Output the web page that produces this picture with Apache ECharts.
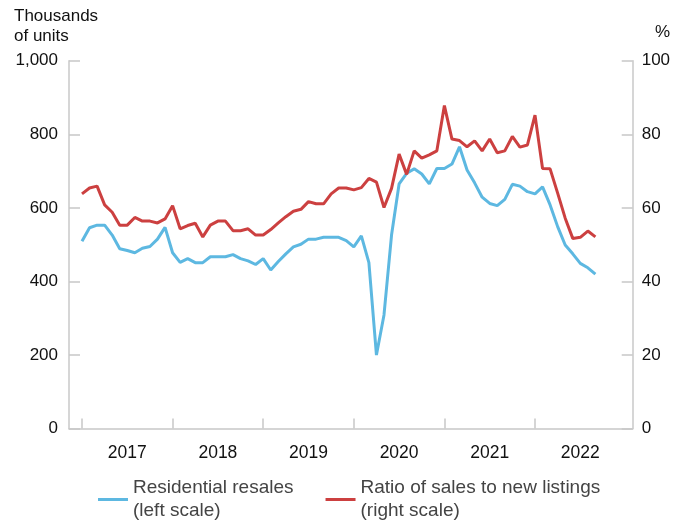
<!DOCTYPE html>
<html>
<head>
<meta charset="utf-8">
<script src="https://cdn.jsdelivr.net/npm/echarts@6/dist/echarts.min.js"></script>
<style>html,body{margin:0;padding:0;background:#fff}#c{width:686px;height:520px}</style>
</head>
<body>
<div id="c"></div>
<script>
// Month index 0 = Jan 2017 ... 68 = Sep 2022
const yearLabels = ['2017', '2018', '2019', '2020', '2021', '2022'];
const yearStartIdx = [0, 12, 24, 36, 48, 60];
const yearMidIdx = [6, 18, 30, 42, 54, 66];

// Residential resales, thousands of units (left scale)
const resales = [
  509, 546, 553, 553, 526, 489, 484, 478, 490, 495, 515, 547,
  478, 452, 462, 451, 451, 467, 467, 467, 473, 462, 456, 446,
  462, 431, 454, 475, 494, 501, 515, 515, 520, 520, 520, 511,
  494, 524, 451, 200, 309, 526, 665, 694, 706, 692, 665, 707,
  707, 719, 766, 703, 668, 629, 612, 606, 623, 664, 659, 644,
  638, 657, 608, 549, 499, 475, 449, 437, 420
];

// Ratio of sales to new listings, % (right scale)
const ratio = [
  63.8, 65.4, 65.9, 60.8, 58.8, 55.3, 55.3, 57.4, 56.4, 56.4, 55.9, 57.0,
  60.6, 54.3, 55.2, 55.8, 52.1, 55.3, 56.4, 56.4, 53.8, 53.8, 54.3, 52.6,
  52.6, 54.1, 55.9, 57.6, 59.1, 59.6, 61.7, 61.1, 61.1, 63.8, 65.4, 65.4,
  64.9, 65.5, 68.0, 67.0, 60.1, 65.3, 74.6, 69.1, 75.5, 73.5, 74.4, 75.5,
  87.8, 78.7, 78.3, 76.6, 78.2, 75.5, 78.7, 75.0, 75.5, 79.4, 76.5, 77.1,
  85.2, 70.7, 70.6, 64.0, 57.2, 51.7, 52.0, 53.7, 52.1
];

const FONT = 'Liberation Sans, Arial, Helvetica, sans-serif';
const AXIS_GREY = '#c8c8c8';

const chart = echarts.init(document.getElementById('c'), null, {renderer: 'canvas'});
chart.setOption({
  animation: false,
  backgroundColor: '#fff',
  textStyle: {fontFamily: FONT},
  title: [
    {text: 'Thousands\nof units', left: 14, top: 6, padding: 0,
     textStyle: {fontFamily: FONT, fontSize: 17, fontWeight: 'normal', color: '#111', lineHeight: 20}},
    {text: '%', left: 655, top: 24, padding: 0,
     textStyle: {fontFamily: FONT, fontSize: 17, fontWeight: 'normal', color: '#111'}}
  ],
  grid: {left: 69, right: 53.3, top: 60.7, bottom: 91.4},
  xAxis: {
    type: 'value', min: -1.72, max: 72.94,
    axisLine: {lineStyle: {color: AXIS_GREY, width: 1.5}},
    axisTick: {inside: true, length: 10, customValues: yearStartIdx, lineStyle: {color: AXIS_GREY, width: 1.5}},
    axisLabel: {customValues: yearMidIdx, margin: 16, fontSize: 17.5, color: '#111', fontFamily: FONT,
      formatter: v => yearLabels[yearMidIdx.indexOf(Math.round(v))] || ''},
    splitLine: {show: false}
  },
  yAxis: [
    {type: 'value', min: 0, max: 1000, interval: 200, position: 'left',
     axisLine: {show: true, onZero: false, lineStyle: {color: AXIS_GREY, width: 1.5}},
     axisTick: {show: true, inside: true, length: 11, lineStyle: {color: AXIS_GREY, width: 1.5}},
     axisLabel: {margin: 11, fontSize: 17, color: '#111', fontFamily: FONT,
       formatter: v => v.toLocaleString('en-US')},
     splitLine: {show: false}},
    {type: 'value', min: 0, max: 100, interval: 20, position: 'right',
     axisLine: {show: true, onZero: false, lineStyle: {color: AXIS_GREY, width: 1.5}},
     axisTick: {show: true, inside: true, length: 11, lineStyle: {color: AXIS_GREY, width: 1.5}},
     axisLabel: {margin: 9, fontSize: 17, color: '#111', fontFamily: FONT},
     splitLine: {show: false}}
  ],
  legend: {
    left: 98, top: 465, padding: 0, itemGap: 32,
    itemWidth: 30, itemHeight: 3, icon: 'rect',
    textStyle: {fontFamily: FONT, fontSize: 19, color: '#444', lineHeight: 23, padding: [23, 0, 0, 0]},
    formatter: n => n === 'Residential resales' ? 'Residential resales\n(left scale)' : 'Ratio of sales to new listings\n(right scale)',
    data: ['Residential resales', 'Ratio of sales to new listings']
  },
  series: [
    {name: 'Residential resales', type: 'line', yAxisIndex: 0, showSymbol: false, symbol: 'none',
     color: '#5db8e1', lineStyle: {width: 3, color: '#5db8e1'},
     data: resales.map((v, i) => [i, v])},
    {name: 'Ratio of sales to new listings', type: 'line', yAxisIndex: 1, showSymbol: false, symbol: 'none',
     color: '#cc4040', lineStyle: {width: 3, color: '#cc4040'},
     data: ratio.map((v, i) => [i, v])}
  ]
});
</script>
</body>
</html>
